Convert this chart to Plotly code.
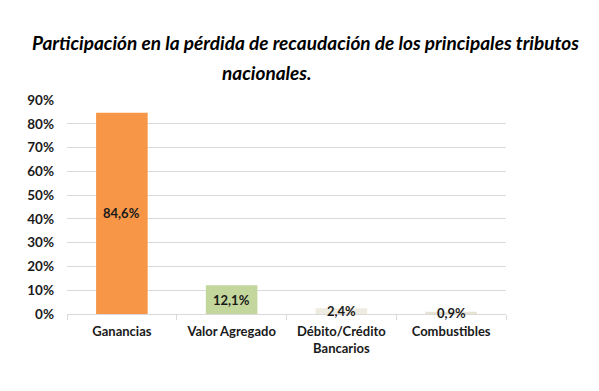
import plotly.graph_objects as go

categories = ["Ganancias", "Valor Agregado", "Débito/Crédito<br>Bancarios", "Combustibles"]
values = [84.6, 12.1, 2.4, 0.9]
colors = ["#F79646", "#C3D69B", "#EEECE1", "#E6E3D3"]
title_line1 = "Participación en la pérdida de recaudación de los principales tributos"
title_line2 = "nacionales."
y_ticks = [0, 10, 20, 30, 40, 50, 60, 70, 80, 90]
y_ticktext = [f"{t}%" for t in y_ticks]

FONT = "Lato, 'Open Sans', sans-serif"

fig = go.Figure()
fig.add_trace(go.Bar(
    x=categories, y=values, marker=dict(color=colors, line=dict(width=0)),
    width=0.47, hoverinfo="skip", showlegend=False,
))

for c, v in zip(categories, values):
    fig.add_annotation(
        x=c, y=v / 2, text=f"{v:.1f}%".replace(".", ","), showarrow=False,
        font=dict(family=FONT, size=13, color="#1a1a1a", weight="bold"),
        xanchor="center", yanchor="middle",
    )

fig.add_annotation(
    xref="paper", yref="paper", x=(306 - 67) / 440, y=(314 - 43) / 214,
    text=f"<b><i>{title_line1}</i></b>", showarrow=False,
    font=dict(family=FONT, size=19, color="#000000"), xanchor="center", yanchor="middle",
)
fig.add_annotation(
    xref="paper", yref="paper", x=(267 - 67) / 440, y=(314 - 72) / 214,
    text=f"<b><i>{title_line2}</i></b>", showarrow=False,
    font=dict(family=FONT, size=19, color="#000000"), xanchor="center", yanchor="middle",
)

fig.update_layout(
    width=599, height=391,
    margin=dict(l=67, r=93, t=100, b=77, autoexpand=False),
    paper_bgcolor="white", plot_bgcolor="white",
    bargap=0.53,
    xaxis=dict(
        showgrid=False, showline=True, linecolor="#D9D9D9", linewidth=1,
        ticks="outside", tickson="boundaries", ticklen=5, tickcolor="#D9D9D9",
        tickfont=dict(family=FONT, size=13, color="#1a1a1a", weight="bold"),
        ticklabelstandoff=5, automargin=False,
        fixedrange=True,
    ),
    yaxis=dict(
        range=[0, 90], tickmode="array", tickvals=y_ticks, ticktext=y_ticktext,
        showgrid=True, gridcolor="#D9D9D9", gridwidth=1,
        zeroline=False, showline=False,
        tickfont=dict(family=FONT, size=13.5, color="#1a1a1a", weight="bold"),
        ticklabelstandoff=12, automargin=False,
        fixedrange=True,
    ),
)

fig.write_html("out.html", config={"displayModeBar": False},
               post_script="document.body.style.margin='0';")
